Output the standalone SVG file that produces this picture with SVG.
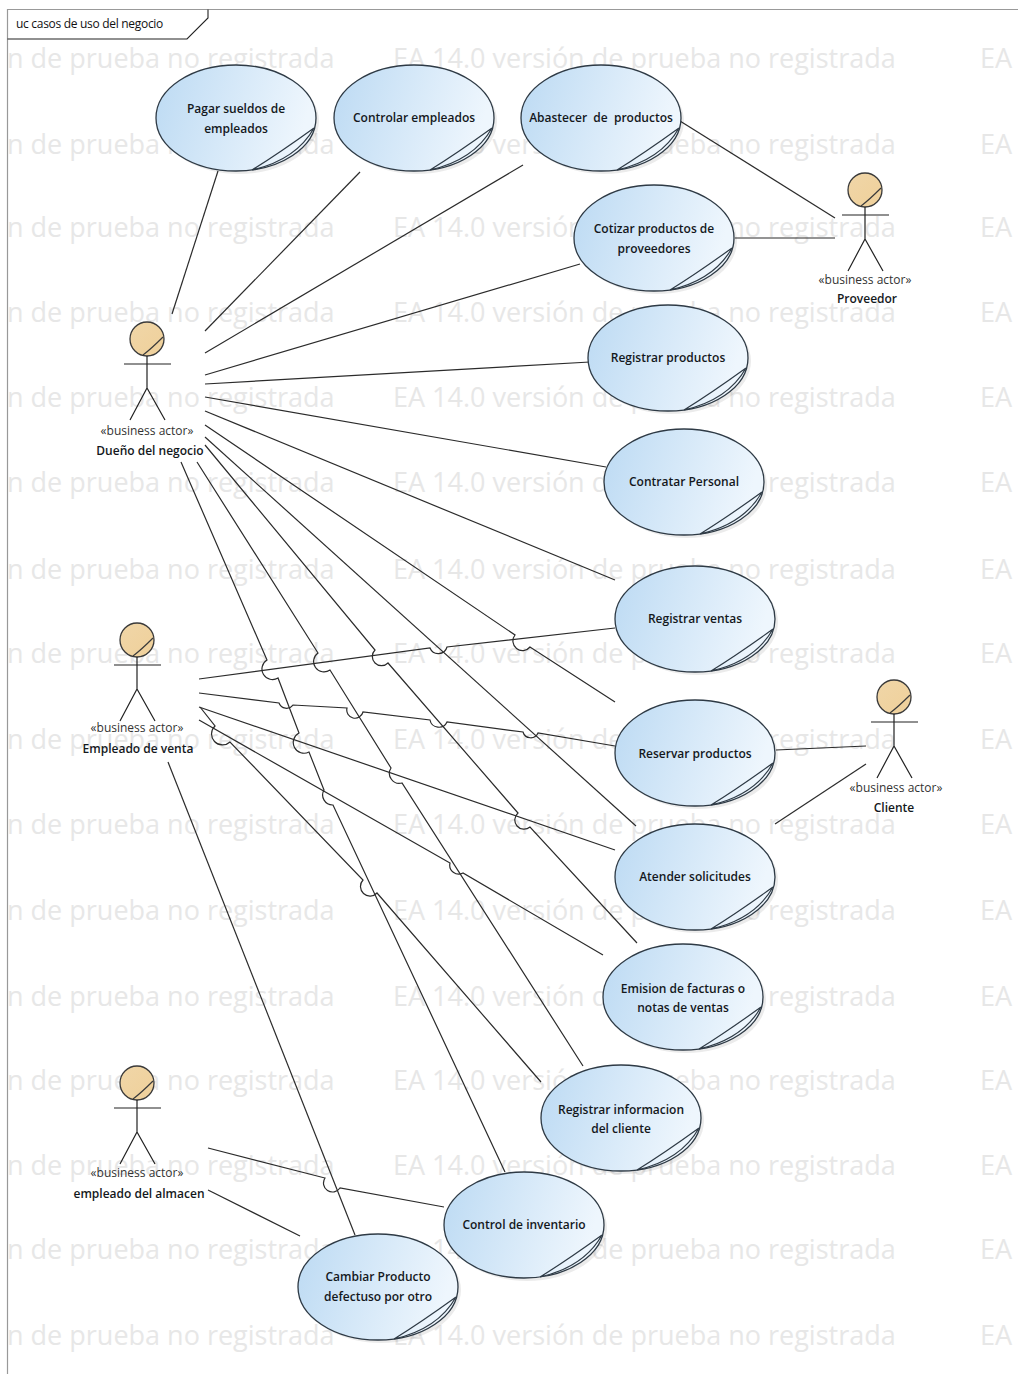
<svg xmlns="http://www.w3.org/2000/svg" width="1018" height="1374" viewBox="0 0 1018 1374">
<style>
.wm{font:27px "Open Sans","Noto Sans",sans-serif;fill:#e7e7e7}
.t{font:600 12px "Open Sans","Noto Sans",sans-serif;fill:#14181c;text-anchor:middle}
.s{font:12px "Open Sans","Noto Sans",sans-serif;fill:#333;text-anchor:middle}
.c{fill:none;stroke:#2b2b2b;stroke-width:1.2}
.a{fill:none;stroke:#222;stroke-width:1.2}
</style>
<defs>
<linearGradient id="g" x1="0" x2="1" y1="0" y2="0.2"><stop offset="0" stop-color="#bcdaf3"/><stop offset="1" stop-color="#eef6fd"/></linearGradient>
<linearGradient id="h" x1="0" x2="1" y1="0" y2="1"><stop offset="0" stop-color="#f0d6a8"/><stop offset="1" stop-color="#efd09a"/></linearGradient>
<g id="uc">
<ellipse cx="3" cy="3" rx="80" ry="53" fill="#000" fill-opacity=".08"/>
<ellipse rx="80" ry="53" fill="url(#g)" stroke="#2e3a45" stroke-width="1.3"/>
<path d="M16,52 Q42,36 78,10 M16,52 Q60,42 78,10" fill="none" stroke="#2e3a45" stroke-width="1.2"/>
</g>
<g id="ac">
<circle r="17" fill="url(#h)" stroke="#3a3a3a" stroke-width="1.3"/>
<path d="M-4,16 Q4,10 16,-2" fill="none" stroke="#3a3a3a" stroke-width="1.2"/>
<path d="M-23,25H24M0,17V49M-17,81L0,49L18,81" class="a"/>
</g>
</defs>
<rect width="1018" height="1374" fill="#fff"/>
<g id="watermark">
<text class="wm" y="68"><tspan x="7">n de prueba no registrada</tspan><tspan x="393">EA 14.0 versión de prueba no registrada</tspan><tspan x="980">EA</tspan></text>
<text class="wm" y="154"><tspan x="7">n de prueba no registrada</tspan><tspan x="393">EA 14.0 versión de prueba no registrada</tspan><tspan x="980">EA</tspan></text>
<text class="wm" y="237"><tspan x="7">n de prueba no registrada</tspan><tspan x="393">EA 14.0 versión de prueba no registrada</tspan><tspan x="980">EA</tspan></text>
<text class="wm" y="322"><tspan x="7">n de prueba no registrada</tspan><tspan x="393">EA 14.0 versión de prueba no registrada</tspan><tspan x="980">EA</tspan></text>
<text class="wm" y="407"><tspan x="7">n de prueba no registrada</tspan><tspan x="393">EA 14.0 versión de prueba no registrada</tspan><tspan x="980">EA</tspan></text>
<text class="wm" y="492"><tspan x="7">n de prueba no registrada</tspan><tspan x="393">EA 14.0 versión de prueba no registrada</tspan><tspan x="980">EA</tspan></text>
<text class="wm" y="579"><tspan x="7">n de prueba no registrada</tspan><tspan x="393">EA 14.0 versión de prueba no registrada</tspan><tspan x="980">EA</tspan></text>
<text class="wm" y="663"><tspan x="7">n de prueba no registrada</tspan><tspan x="393">EA 14.0 versión de prueba no registrada</tspan><tspan x="980">EA</tspan></text>
<text class="wm" y="749"><tspan x="7">n de prueba no registrada</tspan><tspan x="393">EA 14.0 versión de prueba no registrada</tspan><tspan x="980">EA</tspan></text>
<text class="wm" y="834"><tspan x="7">n de prueba no registrada</tspan><tspan x="393">EA 14.0 versión de prueba no registrada</tspan><tspan x="980">EA</tspan></text>
<text class="wm" y="920"><tspan x="7">n de prueba no registrada</tspan><tspan x="393">EA 14.0 versión de prueba no registrada</tspan><tspan x="980">EA</tspan></text>
<text class="wm" y="1006"><tspan x="7">n de prueba no registrada</tspan><tspan x="393">EA 14.0 versión de prueba no registrada</tspan><tspan x="980">EA</tspan></text>
<text class="wm" y="1090"><tspan x="7">n de prueba no registrada</tspan><tspan x="393">EA 14.0 versión de prueba no registrada</tspan><tspan x="980">EA</tspan></text>
<text class="wm" y="1175"><tspan x="7">n de prueba no registrada</tspan><tspan x="393">EA 14.0 versión de prueba no registrada</tspan><tspan x="980">EA</tspan></text>
<text class="wm" y="1259"><tspan x="7">n de prueba no registrada</tspan><tspan x="393">EA 14.0 versión de prueba no registrada</tspan><tspan x="980">EA</tspan></text>
<text class="wm" y="1345"><tspan x="7">n de prueba no registrada</tspan><tspan x="393">EA 14.0 versión de prueba no registrada</tspan><tspan x="980">EA</tspan></text>
</g>
<g id="frame">
<path d="M7.500,1374V9.500H1018" fill="none" stroke="#999" stroke-width="1.2"/>
<path d="M7.500,39H187L208,18V9.500" fill="none" stroke="#222" stroke-width="1.1"/>
<text x="16" y="28" font-family="Open Sans, sans-serif" font-size="12" letter-spacing="-.3" fill="#111">uc casos de uso del negocio</text>
</g>
<g id="connectors">
<path class="c" d="M172,314L218,171"/>
<path class="c" d="M205,331L360,172"/>
<path class="c" d="M205,353L523,165"/>
<path class="c" d="M205,375L580,264"/>
<path class="c" d="M205,384L590,362"/>
<path class="c" d="M205,397L606,467"/>
<path class="c" d="M205,411L615,580"/>
<path class="c" d="M205,425L515,635A9,9 0 0 0 530,647L615,702"/>
<path class="c" d="M205,437L636,826"/>
<path class="c" d="M205,445L375,650A9,9 0 0 0 388,663L518,813A9,9 0 0 0 530,827L637,943"/>
<path class="c" d="M197,462L318,653A10,10 0 0 0 330,670L391,768A10,10 0 0 0 402,783L583,1066"/>
<path class="c" d="M181,462L267,660A10,10 0 0 0 278,678L299,733A10,10 0 0 0 309,752L324,790A10,10 0 0 0 333,805L505,1172"/>
<path class="c" d="M199,679L430,648A9,9 0 0 0 447,647L615,628"/>
<path class="c" d="M199,693L279,703A8,8 0 0 0 293,705L347,708A8,8 0 0 0 363,712L430,720A9,9 0 0 0 447,722L523,732A8,8 0 0 0 538,733L615,746"/>
<path class="c" d="M199,707L615,850"/>
<path class="c" d="M199,720L450,863A9,9 0 0 0 463,873L603,955"/>
<path class="c" d="M200,707L215,726A9,9 0 0 0 230,742L363,880A9,9 0 0 0 377,893L541,1082"/>
<path class="c" d="M168,762L355,1235"/>
<path class="c" d="M208,1148L325,1178A9,9 0 0 0 340,1188L444,1207"/>
<path class="c" d="M208,1190L300,1236"/>
<path class="c" d="M680,121L835,218"/>
<path class="c" d="M735,238L835,238"/>
<path class="c" d="M776,750L866,746"/>
<path class="c" d="M775,824L866,764"/>
</g>
<g id="n1" transform="translate(236,118)"><use href="#uc"/><text class="t" y="-5">Pagar sueldos de</text><text class="t" y="15">empleados</text></g>
<g id="n2" transform="translate(414,118)"><use href="#uc"/><text class="t" y="4">Controlar empleados</text></g>
<g id="n3" transform="translate(601,118)"><use href="#uc"/><text class="t" y="4" xml:space="preserve">Abastecer  de  productos</text></g>
<g id="n4" transform="translate(654,238)"><use href="#uc"/><text class="t" y="-5">Cotizar productos de</text><text class="t" y="15">proveedores</text></g>
<g id="n5" transform="translate(668,358)"><use href="#uc"/><text class="t" y="4">Registrar productos</text></g>
<g id="n6" transform="translate(684,482)"><use href="#uc"/><text class="t" y="4">Contratar Personal</text></g>
<g id="n7" transform="translate(695,619)"><use href="#uc"/><text class="t" y="4">Registrar ventas</text></g>
<g id="n8" transform="translate(695,753)"><use href="#uc"/><text class="t" y="5">Reservar productos</text></g>
<g id="n9" transform="translate(695,877)"><use href="#uc"/><text class="t" y="4">Atender solicitudes</text></g>
<g id="n10" transform="translate(683,997)"><use href="#uc"/><text class="t" y="-4">Emision de facturas o</text><text class="t" y="15">notas de ventas</text></g>
<g id="n11" transform="translate(621,1118)"><use href="#uc"/><text class="t" y="-4">Registrar informacion</text><text class="t" y="15">del cliente</text></g>
<g id="n12" transform="translate(524,1225)"><use href="#uc"/><text class="t" y="4">Control de inventario</text></g>
<g id="n13" transform="translate(378,1287)"><use href="#uc"/><text class="t" y="-6">Cambiar Producto</text><text class="t" y="14">defectuso por otro</text></g>
<g id="a1" transform="translate(147,339)"><use href="#ac"/><text class="s" y="96" x="0">«business actor»</text><text class="t" y="116" x="3">Dueño del negocio</text></g>
<g id="a2" transform="translate(137,640)"><use href="#ac"/><text class="s" y="92">«business actor»</text><text class="t" y="113" x="1">Empleado de venta</text></g>
<g id="a3" transform="translate(137,1083)"><use href="#ac"/><text class="s" y="94">«business actor»</text><text class="t" y="115" x="2">empleado del almacen</text></g>
<g id="a4" transform="translate(865,190)"><use href="#ac"/><text class="s" y="94">«business actor»</text><text class="t" y="113" x="2">Proveedor</text></g>
<g id="a5" transform="translate(894,697)"><use href="#ac"/><text class="s" y="95" x="2">«business actor»</text><text class="t" y="115" x="0">Cliente</text></g>
</svg>
